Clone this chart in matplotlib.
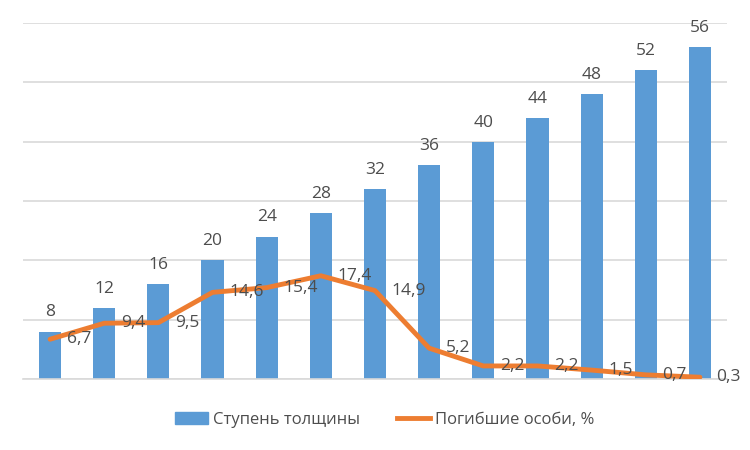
import matplotlib
matplotlib.use("Agg")
import matplotlib.pyplot as plt
import numpy as np
from matplotlib.lines import Line2D
from matplotlib.patches import Patch

thickness = [8, 12, 16, 20, 24, 28, 32, 36, 40, 44, 48, 52, 56]
dead_pct = [6.7, 9.4, 9.5, 14.6, 15.4, 17.4, 14.9, 5.2, 2.2, 2.2, 1.5, 0.7, 0.3]
bar_label = "Ступень толщины"
line_label = "Погибшие особи, %"

plt.rcParams['font.family'] = ['Open Sans', 'DejaVu Sans']
txt = '#4d4d4d'
bar_c = '#5b9bd5'
line_c = '#ed7d31'

fig = plt.figure(figsize=(7.5, 4.5), dpi=100)
ax = fig.add_axes([23/750, 1-379/450, (727-23)/750, (379-23)/450])
x = np.arange(len(thickness))
ax.bar(x, thickness, width=0.41, color=bar_c, zorder=2)
ax.set_xlim(-0.5, len(x)-0.5)
ax.set_ylim(0, 60)
ax.set_yticks(np.arange(0, 61, 10))
ax.yaxis.grid(True, color='#d9d9d9', linewidth=1.2, zorder=0)
ax.tick_params(left=False, bottom=False, labelleft=False, labelbottom=False)
for s in ['left', 'right', 'top']:
    ax.spines[s].set_visible(False)
ax.spines['bottom'].set_color('#d9d9d9')
ax.spines['bottom'].set_linewidth(1.2)

ax.plot(x, dead_pct, color=line_c, linewidth=3.5, solid_capstyle='round',
        solid_joinstyle='round', zorder=3)

for xi, v in zip(x, thickness):
    ax.annotate(str(v), (xi, v), xytext=(0, 8), textcoords='offset points',
                ha='center', va='bottom', fontsize=12.5, color=txt)
for xi, v in zip(x, dead_pct):
    ax.annotate(f"{v}".replace('.', ','), (xi, v), xytext=(12, 0), textcoords='offset points',
                ha='left', va='center', fontsize=12.5, color=txt, zorder=4)

handles = [Patch(color=bar_c), Line2D([], [], color=line_c, linewidth=3.5)]
fig.legend(handles, [bar_label, line_label], loc='center', bbox_to_anchor=(0.513, 1-420/450),
           ncol=2, frameon=False, fontsize=12, labelcolor=txt, handlelength=2.0,
           handletextpad=0.3, columnspacing=2.2)
fig.savefig('out.png', dpi=100)
